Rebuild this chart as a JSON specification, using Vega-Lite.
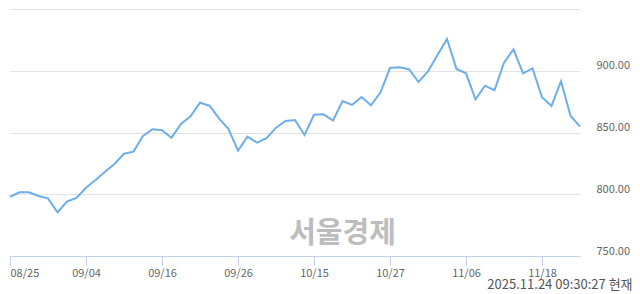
{
  "$schema": "https://vega.github.io/schema/vega-lite/v6.json",
  "width": 570,
  "height": 247,
  "autosize": {"type": "none"},
  "padding": {"left": 10, "top": 9, "right": 60, "bottom": 38},
  "background": "white",
  "config": {
    "view": {"stroke": null},
    "font": "Noto Sans CJK KR"
  },
  "title": {
    "text": "2025.11.24 09:30:27 현재",
    "orient": "bottom",
    "anchor": "end",
    "frame": "bounds",
    "fontSize": 13,
    "fontWeight": "normal",
    "color": "#555555",
    "offset": 1,
    "dx": 3
  },
  "data": {
    "values": [
      {"date": "08/25", "price": 798.0},
      {"date": "08/26", "price": 801.6},
      {"date": "08/27", "price": 801.6},
      {"date": "08/28", "price": 798.6},
      {"date": "08/29", "price": 796.7},
      {"date": "09/01", "price": 785.4},
      {"date": "09/02", "price": 794.0},
      {"date": "09/03", "price": 797.0},
      {"date": "09/04", "price": 805.3},
      {"date": "09/05", "price": 811.5},
      {"date": "09/08", "price": 818.3},
      {"date": "09/09", "price": 824.5},
      {"date": "09/10", "price": 832.8},
      {"date": "09/11", "price": 834.5},
      {"date": "09/12", "price": 847.2},
      {"date": "09/15", "price": 852.6},
      {"date": "09/16", "price": 851.8},
      {"date": "09/17", "price": 845.8},
      {"date": "09/18", "price": 856.9},
      {"date": "09/19", "price": 863.1},
      {"date": "09/22", "price": 874.1},
      {"date": "09/23", "price": 871.7},
      {"date": "09/24", "price": 861.5},
      {"date": "09/25", "price": 852.8},
      {"date": "09/26", "price": 835.3},
      {"date": "09/29", "price": 846.6},
      {"date": "09/30", "price": 841.8},
      {"date": "10/01", "price": 845.5},
      {"date": "10/02", "price": 853.9},
      {"date": "10/10", "price": 859.3},
      {"date": "10/13", "price": 860.1},
      {"date": "10/14", "price": 848.0},
      {"date": "10/15", "price": 864.4},
      {"date": "10/16", "price": 864.7},
      {"date": "10/17", "price": 859.6},
      {"date": "10/20", "price": 875.5},
      {"date": "10/21", "price": 872.3},
      {"date": "10/22", "price": 878.7},
      {"date": "10/23", "price": 872.0},
      {"date": "10/24", "price": 882.5},
      {"date": "10/27", "price": 902.2},
      {"date": "10/28", "price": 902.8},
      {"date": "10/29", "price": 901.2},
      {"date": "10/30", "price": 890.9},
      {"date": "10/31", "price": 899.5},
      {"date": "11/03", "price": 912.8},
      {"date": "11/04", "price": 925.7},
      {"date": "11/05", "price": 901.4},
      {"date": "11/06", "price": 897.9},
      {"date": "11/07", "price": 876.9},
      {"date": "11/10", "price": 887.9},
      {"date": "11/11", "price": 884.2},
      {"date": "11/12", "price": 906.5},
      {"date": "11/13", "price": 917.4},
      {"date": "11/14", "price": 897.9},
      {"date": "11/17", "price": 901.9},
      {"date": "11/18", "price": 878.5},
      {"date": "11/19", "price": 871.5},
      {"date": "11/20", "price": 891.5},
      {"date": "11/21", "price": 863.6},
      {"date": "11/24", "price": 854.7}
    ]
  },
  "encoding": {
    "x": {
      "field": "date",
      "type": "ordinal",
      "sort": null,
      "scale": {"type": "point", "padding": 0},
      "axis": {
        "title": null,
        "values": ["08/25", "09/04", "09/16", "09/26", "10/15", "10/27", "11/06", "11/18"],
        "labelAngle": 0,
        "labelFlush": true,
        "labelFontSize": 11,
        "labelColor": "#666666",
        "labelPadding": 2,
        "domainColor": "#c5d3ea",
        "tickColor": "#c5d3ea",
        "tickSize": 9,
        "grid": false
      }
    },
    "y": {
      "type": "quantitative",
      "scale": {"domain": [750, 950], "nice": false, "zero": false},
      "axis": {
        "orient": "right",
        "title": null,
        "values": [750, 800, 850, 900, 950],
        "labelExpr": "datum.value == 950 ? '' : format(datum.value, '.2f')",
        "labelFontSize": 11,
        "labelColor": "#666666",
        "labelPadding": 16,
        "labelBaseline": "alphabetic",
        "labelOffset": -2,
        "ticks": false,
        "domain": false,
        "grid": true,
        "gridColor": "#e3e3e3",
        "gridWidth": 1
      }
    }
  },
  "layer": [
    {
      "mark": {"type": "line", "color": "#6eaeea", "strokeWidth": 2},
      "encoding": {
        "y": {"field": "price", "type": "quantitative"}
      }
    },
    {
      "data": {"values": [{"label": "서울경제"}]},
      "mark": {"type": "text", "fontSize": 29, "fontWeight": "bold", "color": "#bdbdbd", "align": "center", "baseline": "middle"},
      "encoding": {
        "x": {"datum": "10/20"},
        "y": {"datum": 768},
        "text": {"field": "label"}
      }
    }
  ]
}
